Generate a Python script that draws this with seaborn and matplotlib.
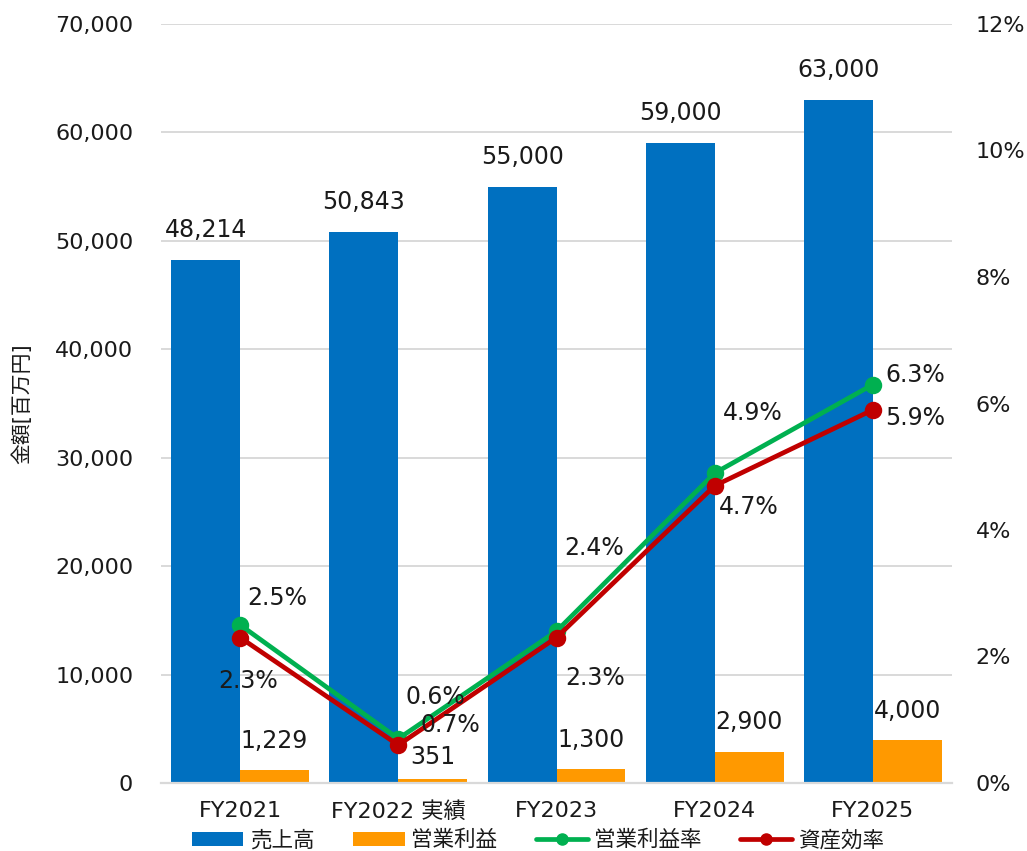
import numpy as np
import pandas as pd
import matplotlib
matplotlib.use("Agg")
import matplotlib.pyplot as plt
from matplotlib.patches import Patch
from matplotlib.lines import Line2D
from matplotlib.ticker import FuncFormatter, MultipleLocator
import seaborn as sns

# ---- data ----
years = ["FY2021", "FY2022 実績", "FY2023", "FY2024", "FY2025"]
sales = [48214, 50843, 55000, 59000, 63000]          # 売上高 [百万円]
op_profit = [1229, 351, 1300, 2900, 4000]            # 営業利益 [百万円]
op_margin = [2.5, 0.7, 2.4, 4.9, 6.3]                # 営業利益率 [%]
asset_eff = [2.3, 0.6, 2.3, 4.7, 5.9]                # 資産効率 [%]

bar_series = ["売上高", "営業利益"]
line_series = ["営業利益率", "資産効率"]
colors = {
    "売上高": "#0070C0",
    "営業利益": "#FF9900",
    "営業利益率": "#00B050",
    "資産効率": "#C00000",
}

bars = pd.DataFrame({
    "年度": years * 2,
    "系列": [bar_series[0]] * len(years) + [bar_series[1]] * len(years),
    "金額": sales + op_profit,
})
rates = pd.DataFrame({
    "年度": years * 2,
    "系列": [line_series[0]] * len(years) + [line_series[1]] * len(years),
    "率": op_margin + asset_eff,
})

# ---- style ----
sns.set_theme(style="white")
plt.rcParams["font.family"] = ["DejaVu Sans", "Noto Sans CJK JP"]
TEXT = "#1a1a1a"
GRID = "#D9D9D9"

W, H = 1027, 851
fig = plt.figure(figsize=(W / 100, H / 100), dpi=100)
ax = fig.add_axes([161 / W, 68 / H, 791 / W, 759 / H])

# ---- bars ----
sns.barplot(data=bars, x="年度", y="金額", hue="系列", hue_order=bar_series,
            palette=colors, width=0.87, gap=0, saturation=1, dodge=True,
            errorbar=None, linewidth=0, edgecolor="none", legend=False, ax=ax)

ax.set_xlim(-0.5, len(years) - 0.5)
ax.set_ylim(0, 70000)
ax.yaxis.set_major_locator(MultipleLocator(10000))
ax.yaxis.set_major_formatter(FuncFormatter(lambda v, p: f"{v:,.0f}"))
ax.set_axisbelow(True)
ax.grid(axis="y", color=GRID, linewidth=1.4)
ax.grid(axis="x", visible=False)
for side in ["top", "left", "right"]:
    ax.spines[side].set_visible(False)
ax.spines["bottom"].set_color(GRID)
ax.spines["bottom"].set_linewidth(1.6)
ax.tick_params(axis="y", length=0, pad=20, labelsize=16, labelcolor=TEXT)
ax.tick_params(axis="x", length=0, pad=13, labelsize=16, labelcolor=TEXT)
ax.set_xlabel("")
ax.set_ylabel("金額[百万円]", fontsize=15, color=TEXT, labelpad=16)

# value labels above bars (pixel offsets)
bar_offsets = [[30, 30, 30, 30, 30], [29, 22, 29, 30, 29]]
for cont, offs in zip(ax.containers, bar_offsets):
    for rect, off in zip(cont, offs):
        v = rect.get_height()
        ax.annotate(f"{v:,.0f}", (rect.get_x() + rect.get_width() / 2, v),
                    xytext=(0, off), textcoords="offset pixels",
                    ha="center", va="center", fontsize=17, color=TEXT)

# ---- rate lines on secondary axis ----
ax2 = ax.twinx()
sns.pointplot(data=rates, x="年度", y="率", hue="系列", hue_order=line_series,
              palette=colors, markers="o", linestyles="-", dodge=False,
              errorbar=None, legend=False, ax=ax2,
              markersize=10, linewidth=3.4)
ax2.set_xlim(-0.5, len(years) - 0.5)
ax2.set_ylim(0, 12)
ax2.yaxis.set_major_locator(MultipleLocator(2))
ax2.yaxis.set_major_formatter(FuncFormatter(lambda v, p: f"{v:.0f}%"))
ax2.tick_params(axis="y", length=0, pad=17, labelsize=16, labelcolor=TEXT)
ax2.set_ylabel("")
ax2.grid(False)
for side in ["top", "left", "right", "bottom"]:
    ax2.spines[side].set_visible(False)

rate_offsets = {
    "営業利益率": [(37, 27), (52, 14), (38, 83), (38, 60), (42, 10)],
    "資産効率": [(8, -43), (37, 48), (39, -40), (34, -21), (42, -8)],
}
for name, vals in zip(line_series, [op_margin, asset_eff]):
    for i, (v, (dx, dy)) in enumerate(zip(vals, rate_offsets[name])):
        ax2.annotate(f"{v:.1f}%", (i, v), xytext=(dx, dy),
                     textcoords="offset pixels", ha="center", va="center",
                     fontsize=17, color=TEXT)

# ---- legend ----
handles = [
    Patch(facecolor=colors["売上高"], edgecolor="none"),
    Patch(facecolor=colors["営業利益"], edgecolor="none"),
    Line2D([], [], color=colors["営業利益率"], lw=3.4, marker="o", markersize=8),
    Line2D([], [], color=colors["資産効率"], lw=3.4, marker="o", markersize=8),
]
fig.legend(handles, bar_series + line_series, loc="center",
           bbox_to_anchor=(538 / W, 11 / H), ncol=4, frameon=False,
           fontsize=15.5, handlelength=2.4, handleheight=0.6,
           handletextpad=0.3, columnspacing=1.8, labelcolor=TEXT)

fig.savefig("out.png", dpi=100)
